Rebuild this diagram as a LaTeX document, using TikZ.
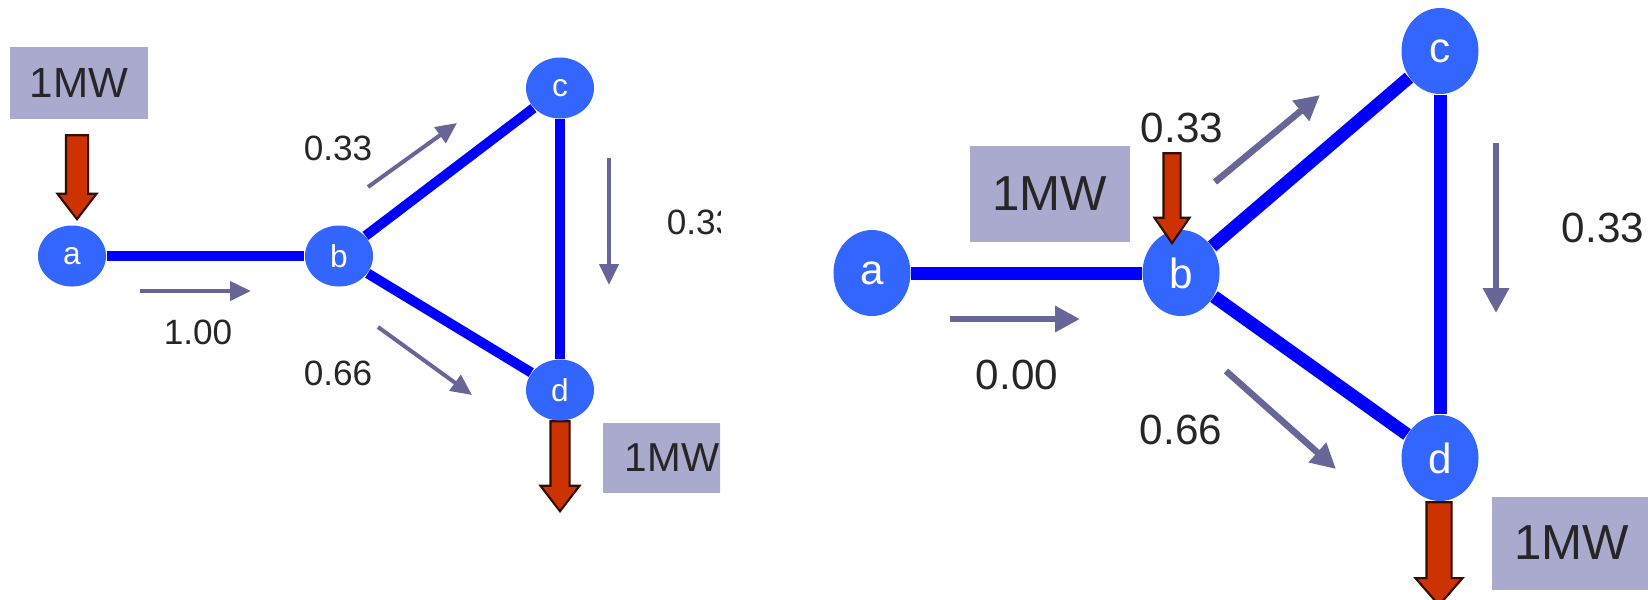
\documentclass[tikz,border=0pt]{standalone}
\usepackage{fontspec}
\setmainfont{Liberation Sans}
\usetikzlibrary{positioning,arrows.meta,shapes.geometric,shapes.arrows}

\definecolor{busblue}{RGB}{51,102,255}
\definecolor{lineblue}{RGB}{0,0,255}
\definecolor{mwbox}{RGB}{170,170,206}
\definecolor{flowgray}{RGB}{102,102,153}
\definecolor{loadred}{RGB}{204,51,0}

\begin{document}
\begin{tikzpicture}[
  bus/.style={ellipse,fill=busblue,text=white,inner sep=0pt},
  busL/.style={bus,minimum width=0.68cm,minimum height=0.61cm,font=\fontsize{9}{9}\selectfont},
  busR/.style={bus,minimum width=0.77cm,minimum height=0.86cm,font=\fontsize{12}{12}\selectfont},
  mw/.style={fill=mwbox,inner sep=0pt,text=black!85},
  load/.style={single arrow,fill=loadred,draw=black!75!loadred,line width=0.6pt,rotate=-90,inner xsep=0pt},
  flowL/.style={draw=flowgray,line width=0.04cm,-{Triangle[length=0.21cm,width=0.19cm]}},
  flowR/.style={draw=flowgray,line width=0.065cm,-{Triangle[length=0.25cm,width=0.25cm]}},
  valL/.style={text=black!85,font=\fontsize{10}{10}\selectfont},
  valR/.style={text=black!85,font=\fontsize{12}{12}\selectfont}
]
\useasboundingbox (0,0) rectangle (16.48,-5.99);

% left case
\begin{scope}
\clip (0,0) rectangle (7.20,-5.99);
\node[mw,minimum width=1.38cm,minimum height=0.72cm,font=\fontsize{12}{12}\selectfont] (mw1) at (0.79,-0.83) {1MW};
\node[load,minimum height=0.84cm,inner ysep=0.1cm,single arrow head extend=0.085cm,single arrow tip angle=75] (in1) at (0.77,-1.70) {};
\node[load,minimum height=0.90cm,inner ysep=0.085cm,single arrow head extend=0.1cm,single arrow tip angle=75] (out1) at (5.60,-4.60) {};

\node[busL] (a1) at (0.72,-2.56) {a};
\node[busL] (b1) at (3.39,-2.56) {b};
\node[busL] (c1) at (5.60,-0.88) {c};
\node[busL] (d1) at (5.60,-3.90) {d};

\draw[draw=lineblue,line width=0.1cm](a1)to(b1);
\draw[draw=lineblue,line width=0.1cm](b1)to(c1);
\draw[draw=lineblue,line width=0.1cm](b1)to(d1);
\draw[draw=lineblue,line width=0.1cm](c1)to(d1);

\coordinate (f1s) at (1.40,-2.91); \coordinate (f1e) at (2.51,-2.91);
\coordinate (f2s) at (3.68,-1.87); \coordinate (f2e) at (4.57,-1.23);
\coordinate (f3s) at (3.78,-3.27); \coordinate (f3e) at (4.72,-3.95);
\coordinate (f4s) at (6.09,-1.58); \coordinate (f4e) at (6.09,-2.85);
\draw[flowL](f1s)to(f1e);
\draw[flowL](f2s)to(f2e);
\draw[flowL](f3s)to(f3e);
\draw[flowL](f4s)to(f4e);

\node[valL] (v1) at (1.98,-3.32) {1.00};
\node[valL] (v2) at (3.38,-1.48) {0.33};
\node[valL] (v3) at (3.38,-3.73) {0.66};
\node[valL] (v4) at (7.01,-2.22) {0.33};

\node[mw,minimum width=1.38cm,minimum height=0.70cm,font=\fontsize{11.5}{11.5}\selectfont] (mw2) at (6.72,-4.58) {1MW};
\end{scope}

% right case
\node[mw,minimum width=1.60cm,minimum height=0.96cm,font=\fontsize{14}{14}\selectfont] (mw3) at (10.50,-1.94) {1MW};
\node[load,minimum height=1.03cm,inner ysep=0.115cm,single arrow head extend=0.11cm,single arrow tip angle=82] (out2) at (14.39,-5.465) {};

\node[busR] (a2) at (8.72,-2.73) {a};
\node[busR] (b2) at (11.81,-2.73) {b};
\node[busR] (c2) at (14.40,-0.51) {c};
\node[busR] (d2) at (14.40,-4.58) {d};

\draw[draw=lineblue,line width=0.13cm](a2)to(b2);
\draw[draw=lineblue,line width=0.13cm](b2)to(c2);
\draw[draw=lineblue,line width=0.13cm](b2)to(d2);
\draw[draw=lineblue,line width=0.13cm](c2)to(d2);

\node[load,minimum height=0.90cm,inner ysep=0.075cm,single arrow head extend=0.09cm,single arrow tip angle=69] (in2) at (11.72,-1.92) {};

\coordinate (g1s) at (9.50,-3.19); \coordinate (g1e) at (10.80,-3.19);
\coordinate (g2s) at (12.15,-1.82); \coordinate (g2e) at (13.20,-0.95);
\coordinate (g3s) at (12.26,-3.71); \coordinate (g3e) at (13.36,-4.69);
\coordinate (g4s) at (14.96,-1.43); \coordinate (g4e) at (14.96,-3.13);
\draw[flowR](g1s)to(g1e);
\draw[flowR](g2s)to(g2e);
\draw[flowR](g3s)to(g3e);
\draw[flowR](g4s)to(g4e);

\node[valR] (w1) at (10.17,-3.75) {0.00};
\node[valR] (w2) at (11.82,-1.28) {0.33};
\node[valR] (w3) at (11.81,-4.30) {0.66};
\node[valR] (w4) at (16.03,-2.28) {0.33};

\node[mw,minimum width=1.60cm,minimum height=0.93cm,font=\fontsize{14}{14}\selectfont] (mw4) at (15.72,-5.43) {1MW};
\end{tikzpicture}
\end{document}
